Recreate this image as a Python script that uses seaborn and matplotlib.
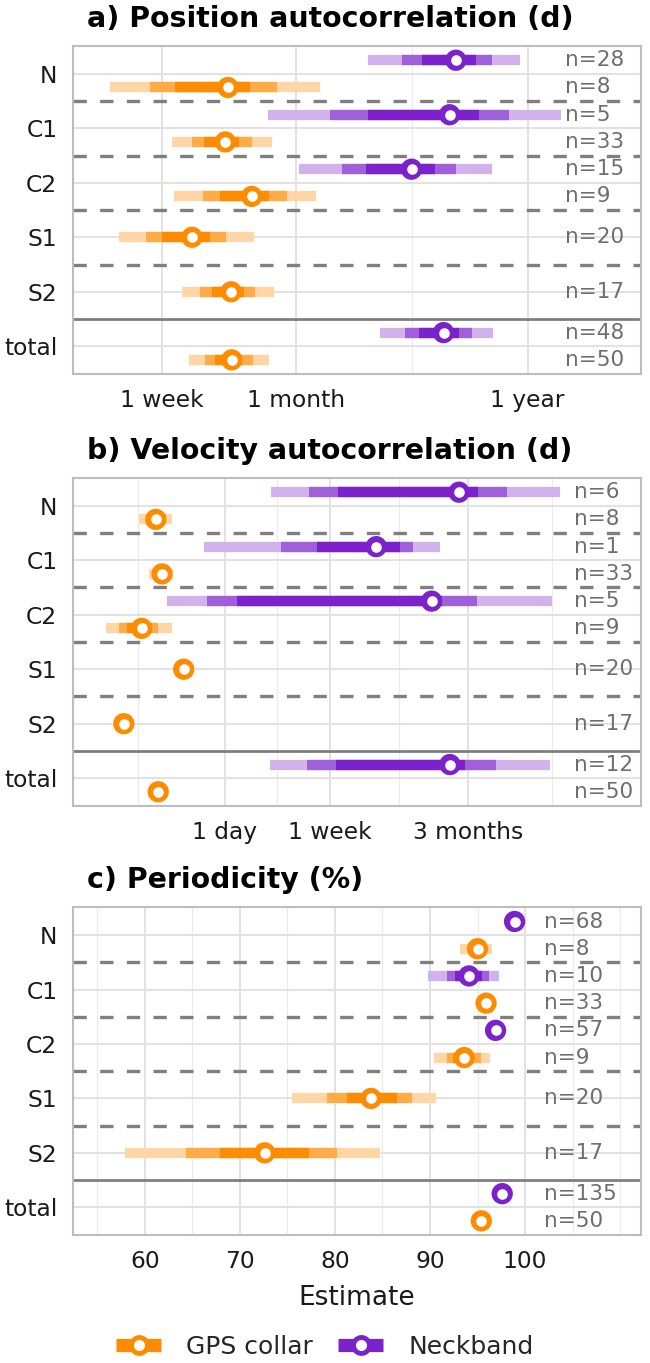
"""
Forest-style summary: position / velocity autocorrelation and periodicity
per group, GPS collar vs Neckband, with 3-level interval bands.
"""

import numpy as np
import pandas as pd
import matplotlib
matplotlib.use('Agg')
import matplotlib.pyplot as plt
import seaborn as sns
from matplotlib.lines import Line2D
from matplotlib.colors import to_rgb
from matplotlib.ticker import NullFormatter


GROUPS    = ['N', 'C1', 'C2', 'S1', 'S2', 'total']
NB_GROUPS = ['N', 'C1', 'C2', 'total']            # Neckband only in these

# ---------------------------------------------------------------------------
# a) Position autocorrelation (days)
# ---------------------------------------------------------------------------
POS_NB_EST  = [168, 157, 104, 147]
POS_NB_LO95 = [65, 22, 30.8, 74]
POS_NB_HI95 = [336, 523, 248, 251]
POS_NB_LO80 = [94, 43, 49, 97]
POS_NB_HI80 = [248, 298, 168, 199]
POS_NB_LO50 = [116, 65, 63.5, 113]
POS_NB_HI50 = [208, 215, 134, 173]
POS_NB_N    = [28, 5, 15, 48]

POS_GPS_EST  = [14.3, 13.9, 18.5, 9.7, 14.8, 14.9]
POS_GPS_LO95 = [4.0, 7.8, 7.95, 4.4, 8.7, 9.4]
POS_GPS_HI95 = [38.5, 23.1, 36.9, 18.9, 23.6, 22.3]
POS_GPS_LO80 = [6.15, 9.7, 10.9, 5.9, 10.6, 11.2]
POS_GPS_HI80 = [24.2, 18.5, 27, 14.0, 19.2, 18.7]
POS_GPS_LO50 = [8.05, 11.1, 13.1, 7.0, 12.1, 12.5]
POS_GPS_HI50 = [18.2, 16.2, 22.4, 11.8, 17.0, 16.6]
POS_GPS_N    = [8, 33, 9, 20, 17, 50]

# ---------------------------------------------------------------------------
# b) Velocity autocorrelation (days)
# ---------------------------------------------------------------------------
VEL_NB_EST  = [75.8, 16.4, 45.7, 64.1]
VEL_NB_LO95 = [2.35, 0.68, 0.34, 2.32]
VEL_NB_HI95 = [491, 53.3, 421, 408]
VEL_NB_LO80 = [4.71, 2.83, 0.72, 4.60]
VEL_NB_HI80 = [185, 32.2, 105, 151]
VEL_NB_LO50 = [8.09, 5.53, 1.26, 7.76]
VEL_NB_HI50 = [108, 25.4, 55, 85.3]
VEL_NB_N    = [6, 1, 5, 12]

VEL_GPS_EST  = [0.278, 0.312, 0.214, 0.466, 0.154, 0.291]
VEL_GPS_LO95 = [0.203, 0.245, 0.11, np.nan, np.nan, np.nan]
VEL_GPS_HI95 = [0.373, 0.382, 0.375, np.nan, np.nan, np.nan]
VEL_GPS_LO80 = [0.232, 0.274, 0.142, np.nan, np.nan, np.nan]
VEL_GPS_HI80 = [0.336, 0.348, 0.291, np.nan, np.nan, np.nan]
VEL_GPS_LO50 = [0.25, 0.29, 0.163, np.nan, np.nan, np.nan]
VEL_GPS_HI50 = [0.312, 0.336, 0.259, np.nan, np.nan, np.nan]
VEL_GPS_N    = [8, 33, 9, 20, 17, 50]

# ---------------------------------------------------------------------------
# c) Periodicity (%)
# ---------------------------------------------------------------------------
PER_NB_EST  = [98.9, 94.1, 96.9, 97.6]
PER_NB_LO95 = [np.nan, 89.8, np.nan, np.nan]
PER_NB_HI95 = [np.nan, 97.25, np.nan, np.nan]
PER_NB_LO80 = [np.nan, 91.8, np.nan, np.nan]
PER_NB_HI80 = [np.nan, 96.2, np.nan, np.nan]
PER_NB_LO50 = [np.nan, 92.6, np.nan, np.nan]
PER_NB_HI50 = [np.nan, 95.5, np.nan, np.nan]
PER_NB_N    = [68, 10, 57, 135]

PER_GPS_EST  = [95.0, 95.9, 93.6, 83.8, 72.6, 95.4]
PER_GPS_LO95 = [93.2, np.nan, 90.4, 75.45, 57.9, np.nan]
PER_GPS_HI95 = [96.5, np.nan, 96.3, 90.6, 84.7, np.nan]
PER_GPS_LO80 = [94.0, np.nan, 91.8, 79.2, 64.3, np.nan]
PER_GPS_HI80 = [96.0, np.nan, 95.4, 88.1, 80.2, np.nan]
PER_GPS_LO50 = [94.5, np.nan, 92.4, 81.3, 67.9, np.nan]
PER_GPS_HI50 = [95.5, np.nan, 94.6, 86.5, 77.25, np.nan]
PER_GPS_N    = [8, 33, 9, 20, 17, 50]

PALETTE = {'GPS collar': '#FF8C00', 'Neckband': '#7B22CC'}
GREY    = '#7F7F7F'


def _tint(color, alpha):
    """Kolor zmieszany z bielą (jak alpha na białym tle)."""
    r, g, b = to_rgb(color)
    return (1 - alpha + alpha * r, 1 - alpha + alpha * g, 1 - alpha + alpha * b)


def _frame(device, groups, est, lo95, hi95, lo80, hi80, lo50, hi50, n):
    df = pd.DataFrame({'group': groups, 'est': est,
                       'lo95': lo95, 'hi95': hi95, 'lo80': lo80, 'hi80': hi80,
                       'lo50': lo50, 'hi50': hi50, 'n': n})
    df['device'] = device
    return df


def _rows(nb, gps):
    """Pozycja y: Neckband nad, GPS pod linią grupy (tylko GPS -> środek)."""
    df = pd.concat([nb, gps], ignore_index=True)
    base = df['group'].map({g: i for i, g in enumerate(GROUPS)}).astype(float)
    both = df['group'].isin(NB_GROUPS)
    shift = np.where(df['device'] == 'Neckband', -0.25, 0.25)
    df['y'] = base + np.where(both, shift, 0.0)
    return df


DATA = {
    'a': _rows(_frame('Neckband', NB_GROUPS, POS_NB_EST, POS_NB_LO95, POS_NB_HI95,
                      POS_NB_LO80, POS_NB_HI80, POS_NB_LO50, POS_NB_HI50, POS_NB_N),
               _frame('GPS collar', GROUPS, POS_GPS_EST, POS_GPS_LO95, POS_GPS_HI95,
                      POS_GPS_LO80, POS_GPS_HI80, POS_GPS_LO50, POS_GPS_HI50, POS_GPS_N)),
    'b': _rows(_frame('Neckband', NB_GROUPS, VEL_NB_EST, VEL_NB_LO95, VEL_NB_HI95,
                      VEL_NB_LO80, VEL_NB_HI80, VEL_NB_LO50, VEL_NB_HI50, VEL_NB_N),
               _frame('GPS collar', GROUPS, VEL_GPS_EST, VEL_GPS_LO95, VEL_GPS_HI95,
                      VEL_GPS_LO80, VEL_GPS_HI80, VEL_GPS_LO50, VEL_GPS_HI50, VEL_GPS_N)),
    'c': _rows(_frame('Neckband', NB_GROUPS, PER_NB_EST, PER_NB_LO95, PER_NB_HI95,
                      PER_NB_LO80, PER_NB_HI80, PER_NB_LO50, PER_NB_HI50, PER_NB_N),
               _frame('GPS collar', GROUPS, PER_GPS_EST, PER_GPS_LO95, PER_GPS_HI95,
                      PER_GPS_LO80, PER_GPS_HI80, PER_GPS_LO50, PER_GPS_HI50, PER_GPS_N)),
}

PANELS = {
    'a': dict(title='a) Position autocorrelation (d)', log=True, xlim=(2.67, 1242),
              ticks=[7, 30, 365], labels=['1 week', '1 month', '1 year'],
              minor=[105], nx=0.866, rect=[0.1118, 0.7256, 0.8743, 0.2406]),
    'b': dict(title='b) Velocity autocorrelation (d)', log=True, xlim=(0.0598, 2195),
              ticks=[1, 7, 90], labels=['1 day', '1 week', '3 months'],
              minor=[0.2, 2.6, 25, 420], nx=0.883, rect=[0.1118, 0.4087, 0.8743, 0.2406]),
    'c': dict(title='c) Periodicity (%)', log=False, xlim=(52.4, 112.2),
              ticks=[60, 70, 80, 90, 100], labels=['60', '70', '80', '90', '100'],
              minor=[55, 65, 75, 85, 95, 105, 110], nx=0.830,
              rect=[0.1118, 0.0939, 0.8743, 0.2404]),
}


def draw_panel(ax, df, cfg):
    if cfg['log']:
        ax.set_xscale('log')
    ax.set_xlim(*cfg['xlim'])
    ax.set_ylim(5.51, -0.51)

    ax.set_xticks(cfg['ticks'], cfg['labels'])
    ax.set_xticks(cfg['minor'], minor=True)
    ax.xaxis.set_minor_formatter(NullFormatter())
    ax.set_yticks(range(len(GROUPS)), GROUPS)
    ax.grid(which='major', color='#E2E2E2', linewidth=1.4)
    ax.grid(which='minor', axis='x', color='#EBEBEB', linewidth=0.8)
    ax.tick_params(which='major', length=7, width=1.3, color='#B3B3B3',
                   labelsize=16.8, labelcolor='#1a1a1a', pad=4)
    ax.tick_params(which='minor', length=0)
    for s in ax.spines.values():
        s.set_color('#BDBDBD')
        s.set_linewidth(1.5)

    # separatory grup
    for yy in [0.5, 1.5, 2.5, 3.5]:
        ax.axhline(yy, color=GREY, linewidth=2.4, linestyle=(0, (4, 4)), zorder=2)
    ax.axhline(4.5, color=GREY, linewidth=2.0, zorder=2)

    # przedziały: 95 (jasny), 80 (średni), 50 (ciemny)
    for lo, hi, a in [('lo95', 'hi95', 0.35), ('lo80', 'hi80', 0.72), ('lo50', 'hi50', 1.0)]:
        d = df.dropna(subset=[lo, hi])
        ax.hlines(d['y'], d[lo], d[hi], colors=[_tint(PALETTE[v], a) for v in d['device']],
                  linewidth=7.4, capstyle='butt', zorder=3)

    # punkt: kolorowy krąg + białe wnętrze
    sns.scatterplot(data=df, x='est', y='y', hue='device', palette=PALETTE, s=235,
                    linewidth=0, legend=False, ax=ax, zorder=4)
    sns.scatterplot(data=df, x='est', y='y', color='white', s=58,
                    linewidth=0, legend=False, ax=ax, zorder=5)

    for _, r in df.iterrows():
        ax.text(cfg['nx'], r['y'], f"n={r['n']}", transform=ax.get_yaxis_transform(),
                ha='left', va='center', fontsize=15.5, color='#6E6E6E', zorder=6)

    ax.text(0.025, 1.082, cfg['title'], transform=ax.transAxes, ha='left', va='center',
            fontsize=20.4, fontweight='bold', color='black')
    ax.set_xlabel('')
    ax.set_ylabel('')


sns.set_theme(style='whitegrid')
plt.rcParams['font.family'] = ['DejaVu Sans']

fig = plt.figure(figsize=(6.5, 13.63), dpi=100)
for key in ['a', 'b', 'c']:
    ax = fig.add_axes(PANELS[key]['rect'])
    draw_panel(ax, DATA[key], PANELS[key])
ax.set_xlabel('Estimate', fontsize=19, color='#1a1a1a', labelpad=8.5)

handles = [Line2D([0], [0], color=PALETTE[k], linewidth=9.5, marker='o', markersize=11.5,
                  markerfacecolor='white', markeredgecolor=PALETTE[k], markeredgewidth=3.5,
                  solid_capstyle='butt')
           for k in ['GPS collar', 'Neckband']]
fig.legend(handles, ['GPS collar', 'Neckband'], loc='center',
           bbox_to_anchor=(0.5, 1 - 1347 / 1363), ncol=2, frameon=False,
           fontsize=18, handlelength=1.8, handletextpad=1.0, columnspacing=1.0)

fig.savefig('out.png', dpi=100)
plt.close(fig)
